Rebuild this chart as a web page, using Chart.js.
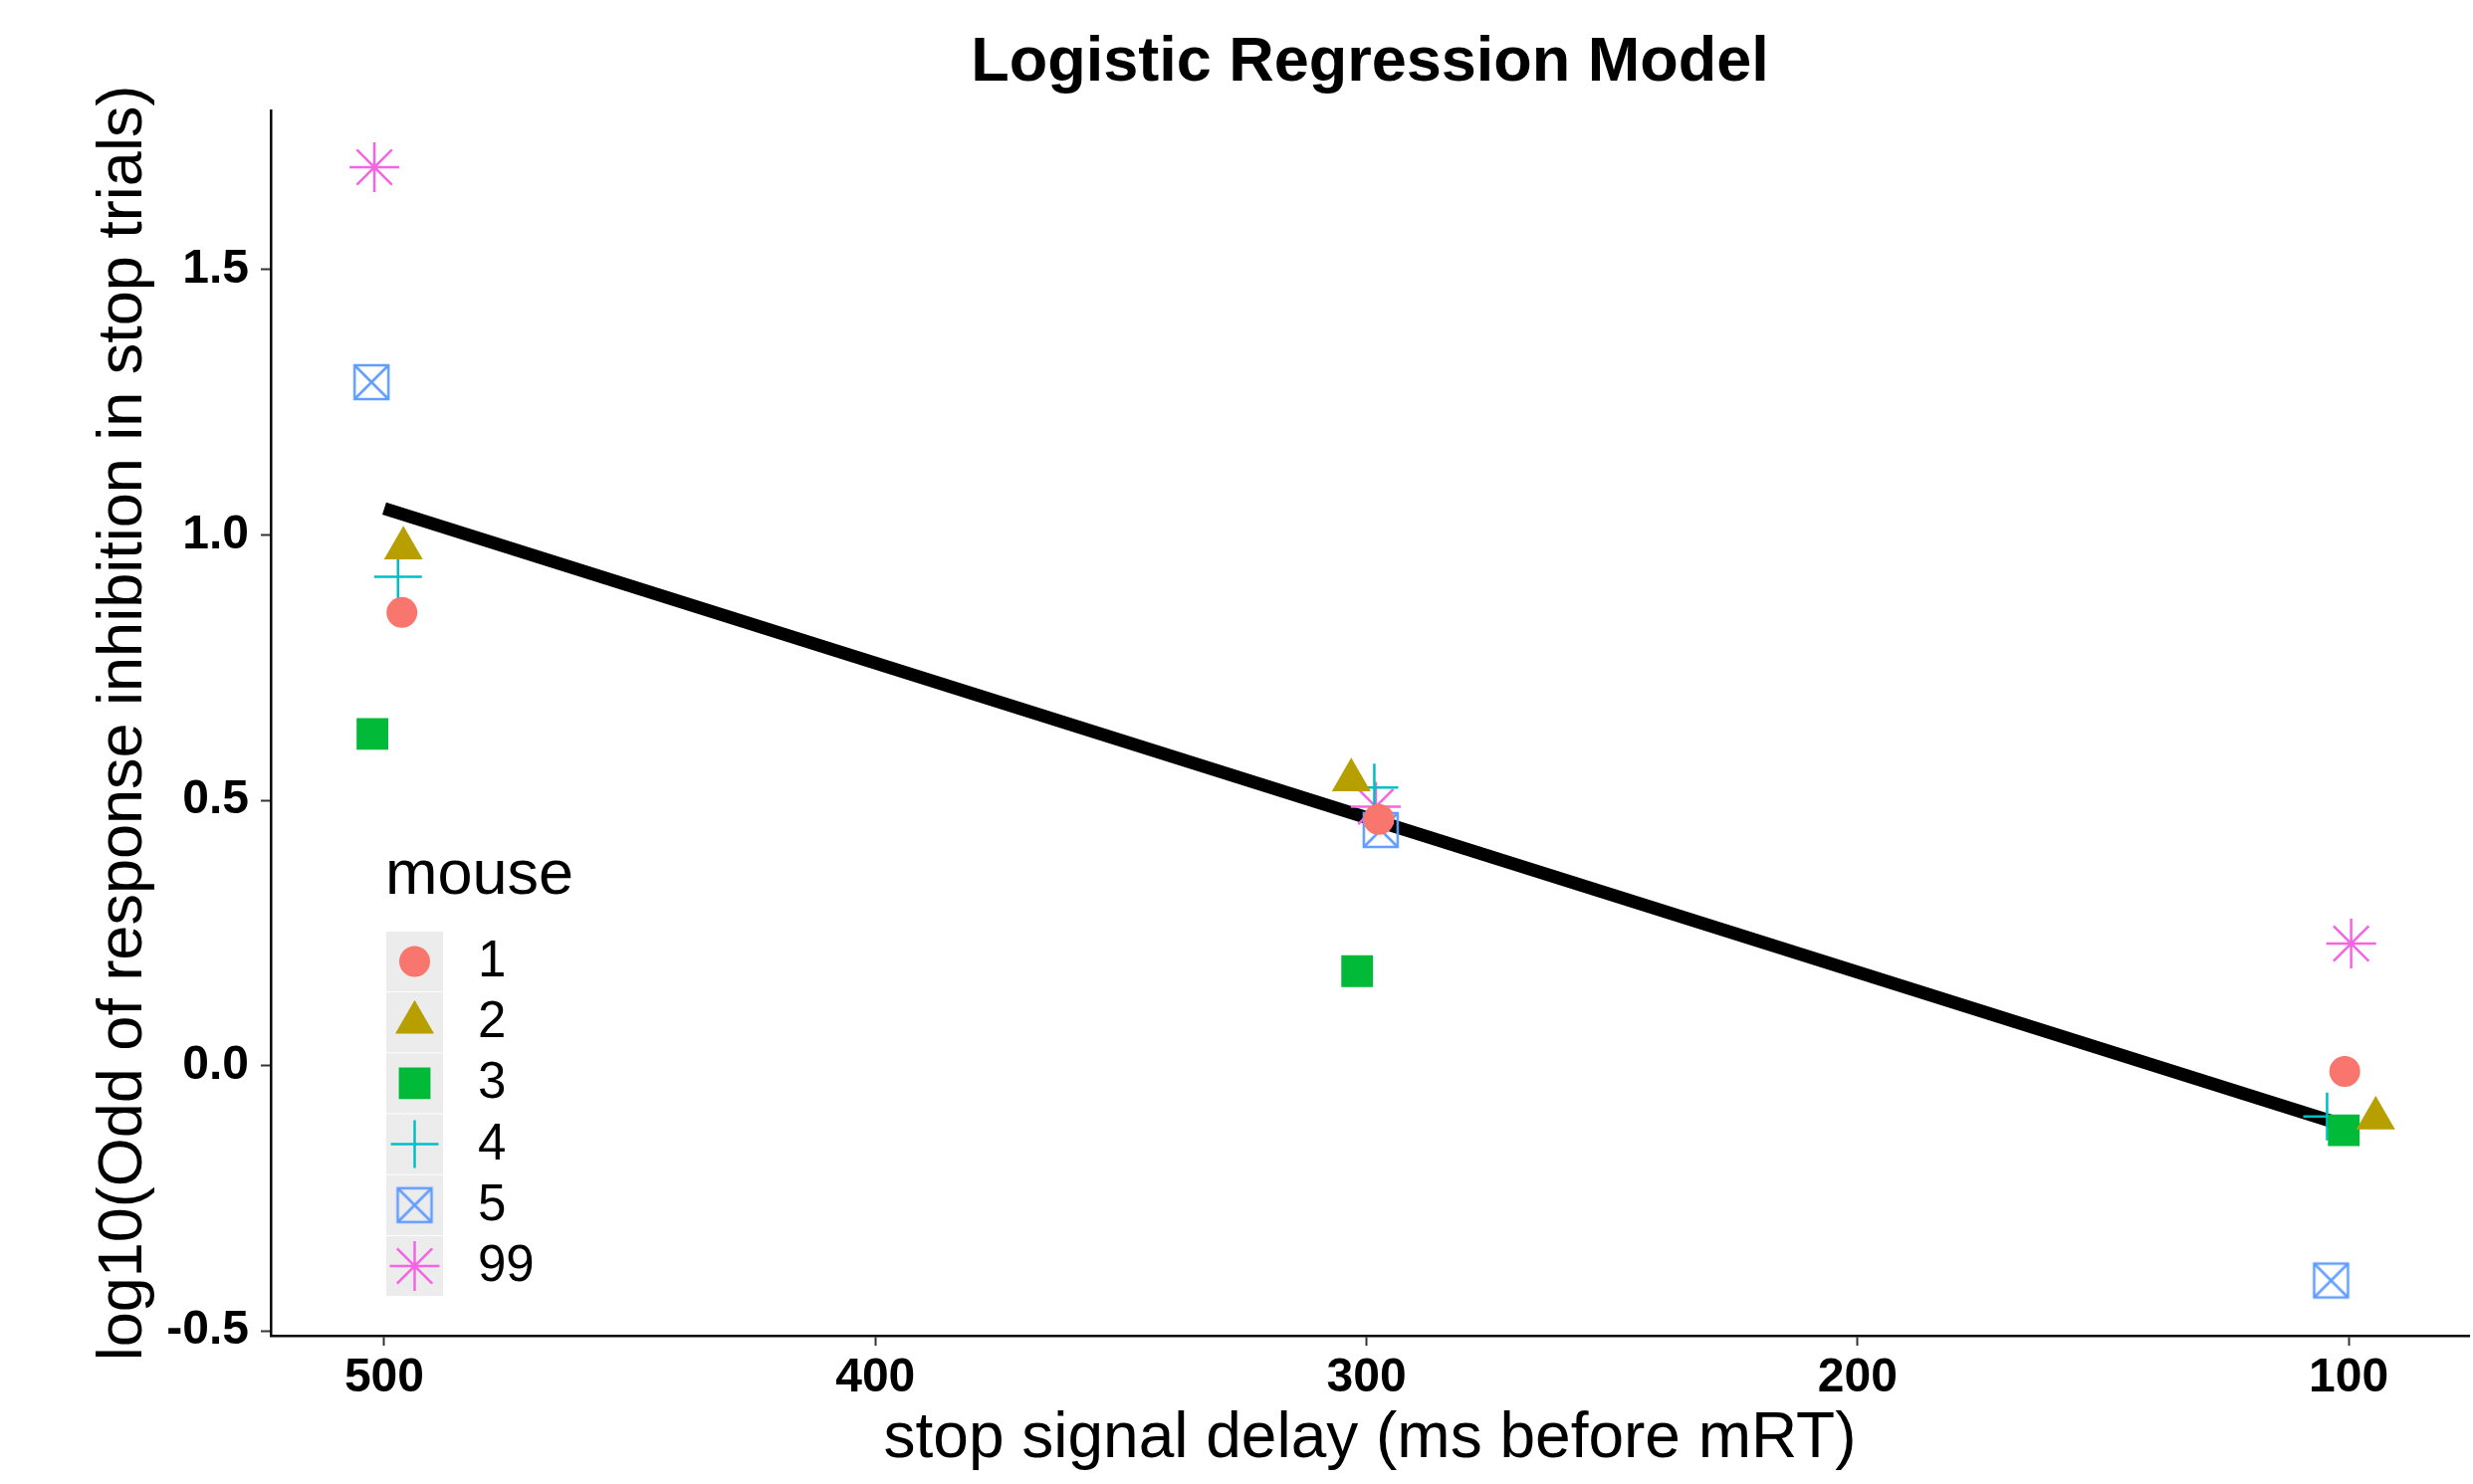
<!DOCTYPE html>
<html>
<head>
<meta charset="utf-8">
<script src="https://cdn.jsdelivr.net/npm/chart.js@4.4.0/dist/chart.umd.min.js"></script>
<style>
  html, body { margin: 0; padding: 0; background: #fff; }
</style>
</head>
<body>
<canvas id="chart" width="2484" height="1491"></canvas>
<script>
// mice and their ggplot hue colours
const mice = ['1', '2', '3', '4', '5', '99'];
const mouseColors = ['#F8766D', '#B79F00', '#00BA38', '#00BFC4', '#619CFF', '#F564E3'];

// stop signal delay (jittered) and log10 odds, one pair of arrays per mouse
const delay1 = [496.4, 297.5, 100.8];
const odds1 = [0.854, 0.464, -0.011];
const delay2 = [496.1, 303.1, 94.5];
const odds2 = [0.975, 0.538, -0.099];
const delay3 = [502.4, 301.9, 101.0];
const odds3 = [0.625, 0.178, -0.122];
const delay4 = [497.2, 298.4, 104.4];
const odds4 = [0.921, 0.524, -0.096];
const delay5 = [502.6, 297.1, 103.6];
const odds5 = [1.288, 0.444, -0.405];
const delay99 = [502.0, 298.1, 99.5];
const odds99 = [1.693, 0.488, 0.230];

// regression line end points
const fitDelay = [500, 100];
const fitOdds = [1.05, -0.115];

const xTicks = [500, 400, 300, 200, 100];
const yTicks = [-0.5, 0.0, 0.5, 1.0, 1.5];

// square with a cross (ggplot shape 7)
function boxCross(color) {
    const c = document.createElement('canvas');
    c.width = 40; c.height = 40;
    const g = c.getContext('2d');
    g.strokeStyle = color;
    g.lineWidth = 2.5;
    g.strokeRect(3, 3, 34, 34);
    g.beginPath();
    g.moveTo(3, 3); g.lineTo(37, 37);
    g.moveTo(37, 3); g.lineTo(3, 37);
    g.stroke();
    return c;
}

const shapes = [
    { pointStyle: 'circle', radius: 15.5, filled: true },
    { pointStyle: 'triangle', radius: 22.5, filled: true },
    { pointStyle: 'rect', radius: 22.5, filled: true },
    { pointStyle: 'cross', radius: 24, filled: false },
    { pointStyle: boxCross(mouseColors[4]), radius: 20, filled: false },
    { pointStyle: 'star', radius: 25, filled: false }
];

const delays = [delay1, delay2, delay3, delay4, delay5, delay99];
const odds = [odds1, odds2, odds3, odds4, odds5, odds99];

const pointSets = mice.map((m, i) => ({
    label: m,
    data: delays[i].map((d, j) => ({ x: d, y: odds[i][j] })),
    pointStyle: shapes[i].pointStyle,
    pointRadius: shapes[i].radius,
    backgroundColor: shapes[i].filled ? mouseColors[i] : 'transparent',
    borderColor: mouseColors[i],
    borderWidth: shapes[i].filled ? 0 : 2.5,
    order: 1
}));

const fitSet = {
    label: 'fit',
    data: fitDelay.map((d, j) => ({ x: d, y: fitOdds[j] })),
    showLine: true,
    borderColor: '#000',
    borderWidth: 13,
    pointRadius: 0,
    order: 2
};

const decorations = {
    id: 'decorations',
    afterDraw(chart) {
        const ctx = chart.ctx;
        const area = chart.chartArea;
        ctx.save();
        ctx.fillStyle = '#000';
        ctx.font = 'bold 63px "Liberation Sans", Arial, sans-serif';
        ctx.textAlign = 'center';
        ctx.textBaseline = 'alphabetic';
        ctx.fillText('Logistic Regression Model', (area.left + area.right) / 2, 81);

        // legend
        ctx.textAlign = 'left';
        ctx.font = '63px "Liberation Sans", Arial, sans-serif';
        ctx.fillText('mouse', 387, 898);
        const rowH = 61.2;
        mice.forEach((m, i) => {
            const y = 966 + rowH * i;
            ctx.fillStyle = '#ececec';
            ctx.fillRect(388, y - rowH / 2 + 0.5, 57, rowH - 1);
            ctx.fillStyle = shapes[i].filled ? mouseColors[i] : 'rgba(0,0,0,0)';
            ctx.strokeStyle = mouseColors[i];
            ctx.lineWidth = 2.5;
            Chart.helpers.drawPoint(ctx, {
                pointStyle: shapes[i].pointStyle,
                radius: shapes[i].radius,
                borderWidth: shapes[i].filled ? 0 : 2.5,
                rotation: 0
            }, 416.5, y);
            ctx.fillStyle = '#000';
            ctx.font = '51px "Liberation Sans", Arial, sans-serif';
            ctx.textBaseline = 'middle';
            ctx.fillText(m, 480, y + 1);
        });
        ctx.restore();
    }
};

new Chart(document.getElementById('chart'), {
    type: 'scatter',
    data: { datasets: [fitSet].concat(pointSets) },
    options: {
        responsive: false,
        animation: false,
        devicePixelRatio: 1,
        layout: { autoPadding: false, padding: { left: 0, right: 4, top: 111, bottom: 0 } },
        plugins: {
            legend: { display: false },
            tooltip: { enabled: false },
            title: { display: false }
        },
        scales: {
            x: {
                type: 'linear',
                reverse: true,
                min: 75.5,
                max: 523.1,
                afterFit: s => { s.height = 149; s.paddingLeft = 0; s.paddingRight = 0; },
                afterBuildTicks: s => { s.ticks = xTicks.map(v => ({ value: v })); },
                border: { display: true, color: '#000', width: 2.5 },
                grid: { drawOnChartArea: false, drawTicks: true, tickLength: 10, tickColor: '#333', tickWidth: 2 },
                ticks: {
                    padding: 4,
                    color: '#000',
                    font: { family: '"Liberation Sans", Arial, sans-serif', size: 48, weight: 'bold' },
                    callback: v => String(v)
                },
                title: {
                    display: true,
                    text: 'stop signal delay (ms before mRT)',
                    color: '#000',
                    font: { family: '"Liberation Sans", Arial, sans-serif', size: 64 },
                    padding: { top: 0, bottom: 6 }
                }
            },
            y: {
                type: 'linear',
                min: -0.509,
                max: 1.80,
                afterFit: s => { s.width = 272; s.paddingTop = 0; s.paddingBottom = 0; },
                afterBuildTicks: s => { s.ticks = yTicks.map(v => ({ value: v })); },
                border: { display: true, color: '#000', width: 2.5 },
                grid: { drawOnChartArea: false, drawTicks: true, tickLength: 10, tickColor: '#333', tickWidth: 2 },
                ticks: {
                    padding: 12,
                    color: '#000',
                    font: { family: '"Liberation Sans", Arial, sans-serif', size: 48, weight: 'bold' },
                    callback: v => v.toFixed(1)
                },
                title: {
                    display: true,
                    text: 'log10(Odd of response inhibition in stop trials)',
                    color: '#000',
                    font: { family: '"Liberation Sans", Arial, sans-serif', size: 63 },
                    padding: { top: 87, bottom: 0 }
                }
            }
        }
    },
    plugins: [decorations]
});
</script>
</body>
</html>
